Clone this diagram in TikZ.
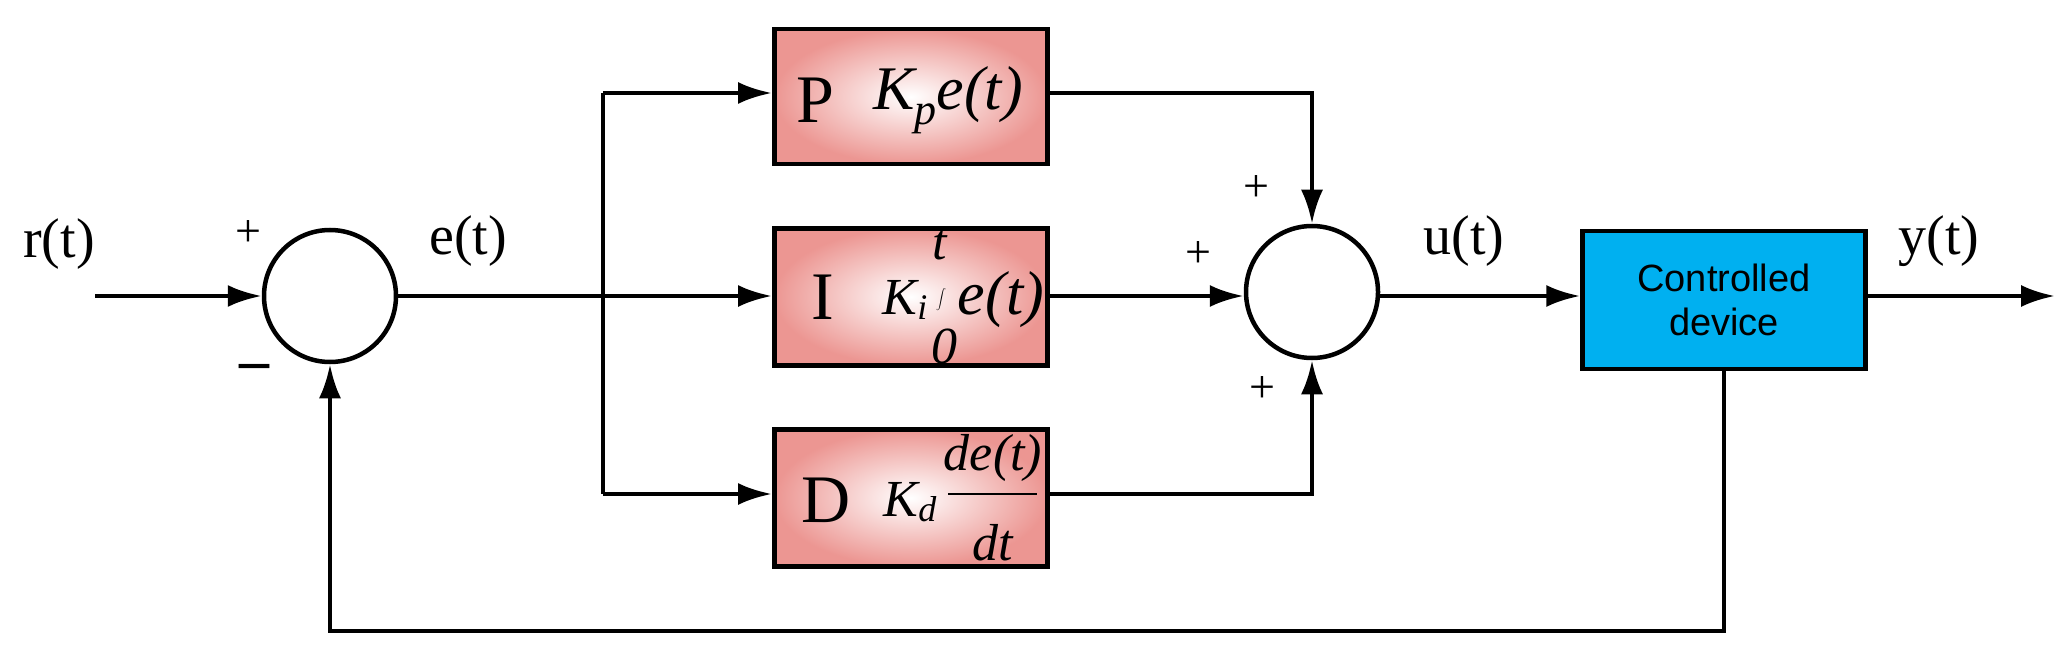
\documentclass[tikz,border=0pt]{standalone}
\usepackage{fontspec}
\setmainfont{Liberation Serif}
\newfontfamily\sansf{Liberation Sans}
\usetikzlibrary{arrows.meta}
\begin{document}
\begin{tikzpicture}[x=1pt,y=-1pt,line width=4.5pt,
  arr/.style={-{Latex[length=34pt,width=22pt]}},
  blk/.style={draw,line width=4.5pt,minimum width=273pt,minimum height=136pt,inner sep=0pt,shading=radial,inner color=white,outer color=red!40!pink!85!brown!60!white},
  circ/.style={draw,circle,minimum size=132pt,inner sep=0pt,line width=4.5pt},
  lbl/.style={font=\fontsize{56}{60}\selectfont,inner sep=0pt},
  big/.style={font=\fontsize{68}{70}\selectfont,inner sep=0pt},
  it/.style={font=\fontsize{62}{64}\selectfont\itshape,inner sep=0pt},
  sm/.style={font=\fontsize{52}{54}\selectfont\itshape,inner sep=0pt},
  pm/.style={font=\fontsize{46}{48}\selectfont,inner sep=0pt}]
\definecolor{salmon}{RGB}{236,150,146}
\definecolor{devc}{RGB}{0,176,240}
\useasboundingbox (0,0) rectangle (2068,655);
\tikzset{blk/.append style={outer color=salmon}}
% nodes
\coordinate (in) at (95,296);
\node[circ] (s1) at (330,296) {};
\coordinate (sp) at (603,296);
\coordinate (spt) at (603,93);
\coordinate (spb) at (603,494);
\node[blk,anchor=north west,minimum height=135pt] (P) at (772,27) {};
\node[blk,anchor=north west,minimum height=137pt] (I) at (772,226) {};
\node[blk,anchor=north west,minimum height=137pt] (D) at (772,427) {};
\node[circ] (s2) at (1312,292) {};
\node[draw,line width=4.5pt,fill=devc,minimum width=283pt,minimum height=138pt,align=center,font=\sansf\fontsize{38}{44}\selectfont] (dev) at (1724,300) {Controlled\\device};
\coordinate (out) at (2055,296);
\coordinate (pc) at (1312,93);
\coordinate (dc) at (1312,494);
\coordinate (fb1) at (dev.south |- 0,631);
\coordinate (fb2) at (330,631);
% block contents
\node[big] (Pl) at (815,100) {P};
\node[it] (Pk) at (948,100) {K\raisebox{-0.25em}{\fontsize{44}{44}\selectfont p}e(t)};
\node[big] (Il) at (823,297) {I};
\node[sm] (Ik) at (905,300) {K\raisebox{-0.1em}{\fontsize{36}{36}\selectfont i}};
\node[inner sep=0pt] (Iint) at (941,300) {\fontsize{44}{44}\selectfont$\displaystyle\int$};
\node[sm] (It) at (940,245) {t};
\node[sm] (I0) at (944,346) {0};
\node[it] (Ie) at (1001,300) {e(t)};
\node[big] (Dl) at (826,500) {D};
\node[sm] (Dk) at (910,502) {K\raisebox{-0.1em}{\fontsize{36}{36}\selectfont d}};
\node[sm] (Dn) at (993,458) {de(t)};
\node[sm] (Dd) at (993,543) {dt};
\coordinate (fl) at (948,494);
\coordinate (fr) at (1037,494);
\draw[line width=1.5pt] (fl) -- (fr);
% labels
\node[lbl] (lr) at (59,244) {r(t)};
\node[lbl] (le) at (468,241) {e(t)};
\node[lbl] (lu) at (1464,241) {u(t)};
\node[lbl] (ly) at (1939,241) {y(t)};
\node[pm] (p1) at (248,234) {+};
\node[font=\fontsize{60}{60}\selectfont,inner sep=0pt] (m1) at (255,372) {\textbf{–}};
\node[pm] (p2) at (1256,189) {+};
\node[pm] (p3) at (1198,255) {+};
\node[pm] (p4) at (1262,390) {+};
% connectors
\draw[arr] (in) -- (s1);
\draw (s1) -- (sp);
\draw (spt) -- (spb);
\draw[arr] (sp) -- (I.west |- sp);
\draw[arr] (spt) -- (P.west |- spt);
\draw[arr] (spb) -- (D.west |- spb);
\draw[arr] (P.east |- pc) -- (pc) -- (s2);
\draw[arr] (D.east |- dc) -- (dc) -- (s2);
\draw[arr] (I.east |- 0,296) -- (s2.west |- 0,296);
\draw[arr] (s2.east |- 0,296) -- (dev.west |- 0,296);
\draw[arr] (dev.east |- 0,296) -- (out);
\draw[arr] (dev.south) -- (fb1) -- (fb2) -- (s1);
\end{tikzpicture}
\end{document}
